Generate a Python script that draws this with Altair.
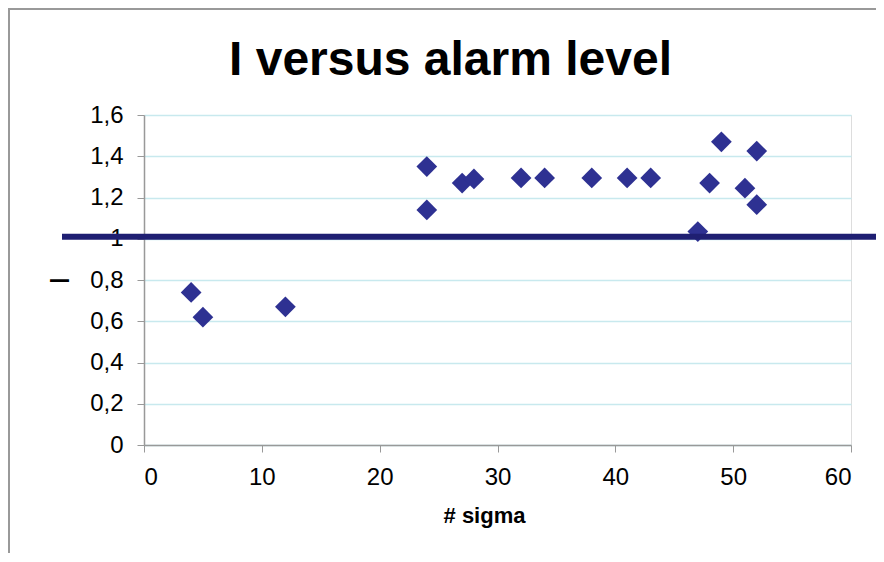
import altair as alt
import pandas as pd

# data
sigma = [4, 5, 12, 24, 24, 27, 28, 32, 34, 38, 41, 43, 47, 48, 49, 51, 52, 52]
ivals = [0.74, 0.62, 0.67, 1.35, 1.14, 1.27, 1.29, 1.295, 1.295, 1.295, 1.295, 1.295,
         1.035, 1.27, 1.47, 1.245, 1.425, 1.165]
alarm_level = [1.01]
y_ticks = [0, 0.2, 0.4, 0.6, 0.8, 1.0, 1.2, 1.4, 1.6]
x_ticks = [0, 10, 20, 30, 40, 50, 60]

W, H = 707, 330
PAD_L, PAD_T, PAD_R, PAD_B = 136, 107, 25, 108

df = pd.DataFrame({"sigma": sigma, "I": ivals})
df_line = pd.DataFrame({"level": alarm_level})

FONT = "Liberation Sans"

points = alt.Chart(df).mark_point(
    shape="diamond", filled=True, size=430, color="#2E3192", opacity=1, strokeWidth=0
).encode(
    x=alt.X("sigma:Q",
            scale=alt.Scale(domain=[0, 60], nice=False, zero=True),
            axis=alt.Axis(values=x_ticks, title="# sigma", grid=False,
                          titleFont=FONT, titleFontSize=22, titleFontWeight="bold",
                          titleColor="#000000", titleX=340, titleY=77,
                          titleBaseline="alphabetic",
                          labelFont=FONT, labelFontSize=24, labelColor="#000000",
                          labelPadding=13, tickSize=7, tickColor="#999999",
                          domainColor="#999999", domainWidth=1.5)),
    y=alt.Y("I:Q",
            scale=alt.Scale(domain=[0, 1.6], nice=False),
            axis=alt.Axis(values=y_ticks, title="I", grid=True,
                          gridColor="#c8e9ee", gridWidth=1.3,
                          labelExpr="replace(format(datum.value, '.1~f'), '.', ',')",
                          titleFont=FONT, titleFontSize=28, titleFontWeight="normal",
                          titleColor="#000000", titleAngle=270,
                          titleX=-84, titleY=165, titleAlign="center",
                          titleBaseline="middle",
                          labelFont=FONT, labelFontSize=24, labelColor="#000000",
                          labelPadding=14, tickSize=7, tickColor="#999999",
                          domainColor="#999999", domainWidth=1.5, zindex=0)),
)

line = alt.Chart(df_line).mark_rule(
    color="#1f1f72", strokeWidth=6, clip=False
).encode(
    y=alt.Y("level:Q"),
    x=alt.value(-82),
    x2=alt.value(W + PAD_R),
)

frame_left = alt.Chart(df_line).mark_rule(color="#999999", strokeWidth=2, clip=False).encode(
    x=alt.value(-PAD_L + 1), y=alt.value(-PAD_T + 1), y2=alt.value(H + PAD_B)
)
frame_top = alt.Chart(df_line).mark_rule(color="#999999", strokeWidth=2, clip=False).encode(
    x=alt.value(-PAD_L), x2=alt.value(W + PAD_R), y=alt.value(-PAD_T + 1)
)

chart = alt.layer(points, line, frame_left, frame_top).properties(
    width=W, height=H,
    title=alt.TitleParams("I versus alarm level", font=FONT, fontSize=48,
                          fontWeight="bold", color="#000000", anchor="middle",
                          frame="group", dx=-47, dy=146, offset=31,
                          baseline="alphabetic"),
    autosize=alt.AutoSizeParams(type="none"),
    padding={"left": PAD_L, "top": PAD_T, "right": PAD_R, "bottom": PAD_B},
).configure_view(stroke=None).configure(background="#ffffff")

chart.save("out.html", embed_options={"renderer": "svg", "actions": False})
